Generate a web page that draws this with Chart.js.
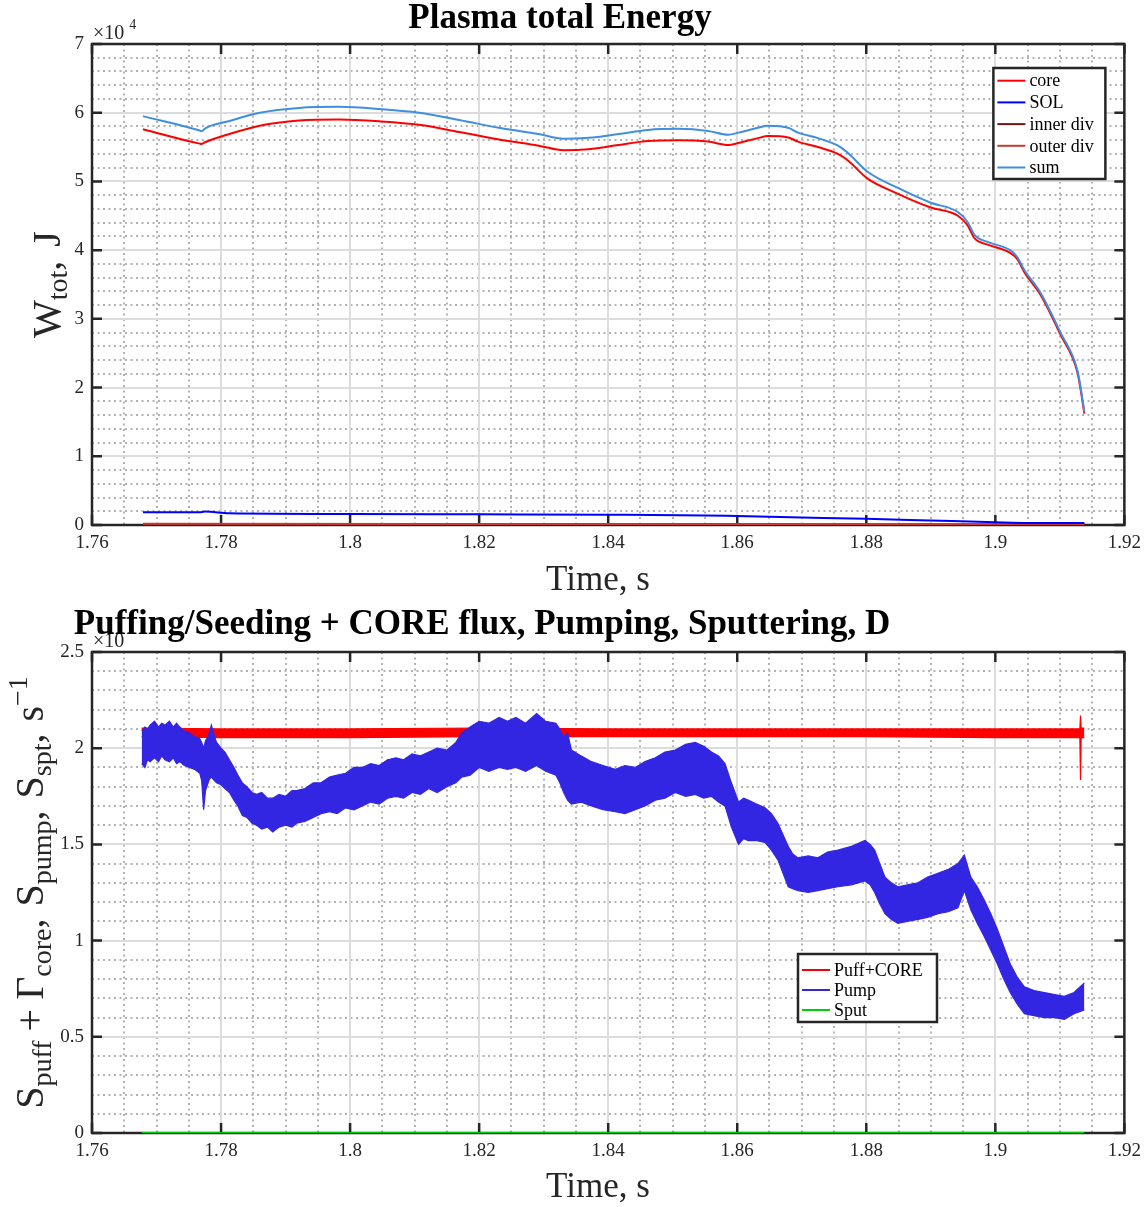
<!DOCTYPE html>
<html><head><meta charset="utf-8">
<script src="https://cdn.jsdelivr.net/npm/chart.js@4.4.0/dist/chart.umd.min.js"></script>
<style>
html,body{margin:0;padding:0;background:#fff;width:1148px;height:1207px;overflow:hidden}
canvas{position:absolute;left:0}
#c1{top:0}
#c2{top:600px}
</style></head><body>
<canvas id="c1" width="1148" height="600"></canvas>
<canvas id="c2" width="1148" height="607"></canvas>
<script>
// ---------- shared axis ticks ----------
const xTicks = [1.76,1.78,1.80,1.82,1.84,1.86,1.88,1.90,1.92];
const xTickLabels = ['1.76','1.78','1.8','1.82','1.84','1.86','1.88','1.9','1.92'];
const energyTicks = [0,1,2,3,4,5,6,7];
const energyTickLabels = ['0','1','2','3','4','5','6','7'];
const fluxTicks = [0,0.5,1,1.5,2,2.5];
const fluxTickLabels = ['0','0.5','1','1.5','2','2.5'];

// ---------- top chart: plasma energy (x 1e4 J) ----------
const energyNames = ['core','SOL','inner div','outer div','sum'];
const energyTime = [1.7679,1.7767,1.7770,1.7775,1.7813,1.7860,1.7921,1.7983,1.8045,1.8107,1.8169,1.8231,1.8292,1.8331,1.8370,1.8416,1.8462,1.8509,1.8555,1.8586,1.8602,1.8632,1.8648,1.8679,1.8694,1.8725,1.8756,1.8772,1.8802,1.8849,1.8900,1.8942,1.8957,1.8968,1.8988,1.9023,1.9034,1.9045,1.9070,1.9101,1.9127,1.9132,1.9138];
const sumEnergy = [5.95,5.74,5.73,5.77,5.88,6.00,6.07,6.085,6.055,6.00,5.895,5.78,5.69,5.62,5.635,5.69,5.75,5.765,5.735,5.68,5.71,5.78,5.81,5.78,5.71,5.63,5.52,5.41,5.14,4.905,4.69,4.555,4.41,4.22,4.12,4.00,3.90,3.71,3.38,2.80,2.26,2.01,1.645];
const coreEnergy = [5.76,5.55,5.545,5.57,5.69,5.81,5.885,5.90,5.875,5.825,5.72,5.61,5.52,5.455,5.47,5.53,5.59,5.60,5.58,5.53,5.56,5.63,5.66,5.64,5.58,5.50,5.40,5.30,5.04,4.82,4.62,4.50,4.36,4.17,4.08,3.96,3.87,3.68,3.35,2.77,2.23,1.98,1.62];
const solTime = [1.7679,1.7767,1.7775,1.7813,1.80,1.82,1.84,1.855,1.86,1.87,1.88,1.89,1.90,1.905,1.9138];
const solEnergy = [0.185,0.185,0.195,0.17,0.16,0.155,0.15,0.14,0.13,0.11,0.09,0.065,0.04,0.03,0.03];
const divTime = [1.7679,1.84,1.9138];
const innerDivEnergy = [0.012,0.010,0.008];
const outerDivEnergy = [0.018,0.015,0.010];

// ---------- bottom chart: particle fluxes (band envelopes) ----------
const fluxNames = ['Puff+CORE','Pump','Sput'];
const puffTime = [1.7677,1.78,1.80,1.82,1.84,1.86,1.88,1.90,1.9131,1.9132,1.9133,1.9138];
const puffHigh = [2.105,2.10,2.10,2.105,2.10,2.10,2.10,2.10,2.10,2.17,2.105,2.105];
const puffLow  = [2.06,2.055,2.055,2.06,2.06,2.06,2.06,2.055,2.055,1.835,2.055,2.055];
const pumpTime = [1.7677,1.7682,1.7686,1.7690,1.7697,1.7703,1.7708,1.7713,1.7720,1.7726,1.7731,1.7736,1.7743,1.7751,1.7759,1.7767,1.7770,1.7773,1.7776,1.7778,1.7782,1.7785,1.7790,1.7793,1.7800,1.7806,1.7813,1.7820,1.7826,1.7833,1.7840,1.7848,1.7855,1.7863,1.7872,1.7880,1.7890,1.7900,1.7910,1.7917,1.7930,1.7943,1.7955,1.7968,1.7980,1.7993,1.8006,1.8019,1.8032,1.8045,1.8058,1.8071,1.8083,1.8096,1.8109,1.8122,1.8135,1.8150,1.8164,1.8173,1.8186,1.8200,1.8215,1.8231,1.8244,1.8257,1.8272,1.8289,1.8303,1.8319,1.8325,1.8331,1.8337,1.8343,1.8358,1.8374,1.8392,1.8411,1.8426,1.8442,1.8457,1.8473,1.8488,1.8504,1.8520,1.8535,1.8548,1.8560,1.8571,1.8581,1.8591,1.8602,1.8610,1.8617,1.8630,1.8643,1.8653,1.8663,1.8671,1.8679,1.8686,1.8694,1.8710,1.8725,1.8740,1.8756,1.8777,1.8798,1.8806,1.8813,1.8821,1.8829,1.8839,1.8849,1.8864,1.8880,1.8895,1.8911,1.8927,1.8942,1.8952,1.8962,1.8972,1.8983,1.8993,1.9003,1.9013,1.9023,1.9034,1.9045,1.9060,1.9076,1.9092,1.9107,1.9122,1.9138];
const pumpHigh = [2.09,2.11,2.10,2.12,2.14,2.11,2.13,2.12,2.14,2.11,2.13,2.11,2.09,2.08,2.06,2.05,2.03,2.00,2.04,2.05,2.08,2.12,2.06,2.03,2.00,1.98,1.94,1.90,1.86,1.82,1.80,1.77,1.76,1.77,1.74,1.74,1.76,1.75,1.78,1.78,1.79,1.82,1.82,1.85,1.86,1.87,1.90,1.90,1.92,1.91,1.94,1.95,1.94,1.97,1.96,1.98,2.00,1.99,2.03,2.08,2.11,2.14,2.13,2.16,2.14,2.16,2.13,2.18,2.14,2.13,2.10,2.06,2.08,1.99,1.96,1.93,1.91,1.89,1.91,1.90,1.93,1.95,1.98,1.99,2.02,2.03,2.01,1.98,1.96,1.92,1.82,1.72,1.74,1.73,1.71,1.69,1.66,1.61,1.55,1.49,1.45,1.43,1.44,1.43,1.46,1.47,1.49,1.52,1.50,1.47,1.40,1.33,1.30,1.28,1.29,1.30,1.33,1.35,1.37,1.40,1.445,1.33,1.28,1.21,1.14,1.06,0.97,0.88,0.81,0.76,0.74,0.73,0.72,0.71,0.73,0.78];
const pumpLow  = [1.92,1.90,1.94,1.93,1.95,1.93,1.96,1.94,1.93,1.95,1.92,1.93,1.91,1.90,1.89,1.87,1.83,1.68,1.78,1.80,1.84,1.85,1.83,1.82,1.81,1.79,1.77,1.73,1.70,1.65,1.64,1.61,1.60,1.58,1.59,1.565,1.59,1.60,1.59,1.61,1.62,1.64,1.66,1.67,1.66,1.69,1.68,1.70,1.72,1.71,1.74,1.75,1.74,1.77,1.76,1.79,1.77,1.80,1.82,1.85,1.86,1.90,1.88,1.90,1.89,1.90,1.88,1.91,1.88,1.86,1.82,1.77,1.73,1.71,1.72,1.70,1.68,1.67,1.66,1.68,1.70,1.73,1.74,1.77,1.75,1.76,1.74,1.75,1.72,1.70,1.59,1.50,1.53,1.52,1.52,1.51,1.47,1.42,1.35,1.28,1.27,1.26,1.25,1.26,1.27,1.28,1.29,1.31,1.29,1.25,1.19,1.14,1.11,1.09,1.10,1.11,1.12,1.14,1.15,1.17,1.26,1.16,1.09,1.02,0.95,0.88,0.80,0.73,0.67,0.62,0.61,0.60,0.60,0.59,0.62,0.64];
const sputTime = [1.7677,1.9138];
const sputFlux = [0,0];

// ---------- helpers ----------
const SERIF = '"Liberation Serif","Times New Roman",Times,serif';
const INK = '#262626';
const pts = (xs, ys) => xs.map((x, i) => ({x: x, y: ys[i]}));
const isMajor = (v, step) => Math.abs(v / step - Math.round(v / step)) < 1e-6;

function makeScales(yTicks, yLabels, yMax, yMinorStep, yMajorStep, xHeight) {
  return {
    x: { type:'linear', position:'bottom', min:1.76, max:1.92,
      afterBuildTicks: s => { s.ticks = xTicks.map(v => ({value:v})); },
      afterFit: s => { s.height = xHeight; },
      ticks: { autoSkip:false, maxRotation:0, minRotation:0, padding:7, color:INK,
               font:{family:SERIF, size:19}, callback:(v, i) => xTickLabels[i] },
      grid: { color:'#dcdcdc', lineWidth:2, drawTicks:false, z:-1 },
      border: { display:false } },
    xm: { type:'linear', position:'bottom', min:1.76, max:1.92,
      afterFit: s => { s.height = 0; },
      ticks: { display:false, stepSize:0.005 },
      grid: { color: c => (c.tick && isMajor(c.tick.value - 1.76, 0.02)) ? 'rgba(0,0,0,0)' : '#b3b3b3',
              lineWidth:2, drawTicks:false, z:-2 },
      border: { display:false, dash:[2,3.5] } },
    y: { type:'linear', position:'left', min:0, max:yMax,
      afterBuildTicks: s => { s.ticks = yTicks.map(v => ({value:v})); },
      afterFit: s => { s.width = 92; },
      ticks: { padding:8, color:INK, font:{family:SERIF, size:19}, callback:(v, i) => yLabels[i] },
      grid: { color:'#dcdcdc', lineWidth:2, drawTicks:false, z:-1 },
      border: { display:false } },
    ym: { type:'linear', position:'left', min:0, max:yMax,
      afterFit: s => { s.width = 0; },
      ticks: { display:false, stepSize:yMinorStep },
      grid: { color: c => (c.tick && isMajor(c.tick.value, yMajorStep)) ? 'rgba(0,0,0,0)' : '#b3b3b3',
              lineWidth:2, drawTicks:false, z:-2 },
      border: { display:false, dash:[2,3.5] } }
  };
}

// axes box with inward ticks (drawn under the data, like MATLAB)
const boxPlugin = {
  id:'mbox',
  beforeDatasetsDraw(chart) {
    const ctx = chart.ctx, a = chart.chartArea, xs = chart.scales.x, ys = chart.scales.y;
    ctx.save();
    ctx.strokeStyle = INK; ctx.lineWidth = 2.5;
    ctx.strokeRect(a.left, a.top, a.right - a.left, a.bottom - a.top);
    ctx.beginPath();
    xs.ticks.forEach(t => { const p = xs.getPixelForValue(t.value);
      ctx.moveTo(p, a.bottom); ctx.lineTo(p, a.bottom - 10);
      ctx.moveTo(p, a.top); ctx.lineTo(p, a.top + 10); });
    ys.ticks.forEach(t => { const p = ys.getPixelForValue(t.value);
      ctx.moveTo(a.left, p); ctx.lineTo(a.left + 10, p);
      ctx.moveTo(a.right, p); ctx.lineTo(a.right - 10, p); });
    ctx.stroke();
    ctx.restore();
  }
};

function drawRich(ctx, parts, cx, cy, rot) {
  ctx.save();
  ctx.translate(cx, cy); ctx.rotate(rot);
  let w = 0;
  parts.forEach(p => { ctx.font = p.font; w += ctx.measureText(p.t).width + (p.gap || 0); });
  let x = -w / 2;
  ctx.textAlign = 'left'; ctx.textBaseline = 'alphabetic'; ctx.fillStyle = INK;
  parts.forEach(p => { ctx.font = p.font; ctx.fillText(p.t, x, p.dy || 0); x += ctx.measureText(p.t).width + (p.gap || 0); });
  ctx.restore();
}

function drawLegend(ctx, entries, bx, by, bw, bh, first, rowH) {
  ctx.save();
  ctx.fillStyle = '#fff'; ctx.fillRect(bx, by, bw, bh);
  ctx.strokeStyle = INK; ctx.lineWidth = 2.5; ctx.strokeRect(bx, by, bw, bh);
  ctx.font = '18px ' + SERIF; ctx.textBaseline = 'middle'; ctx.textAlign = 'left';
  entries.forEach((e, i) => {
    const ry = by + first + i * rowH;
    ctx.strokeStyle = e.color; ctx.lineWidth = 2;
    ctx.beginPath(); ctx.moveTo(bx + 4, ry); ctx.lineTo(bx + 32, ry); ctx.stroke();
    ctx.fillStyle = '#000'; ctx.fillText(e.label, bx + 36, ry + 1);
  });
  ctx.restore();
}

function legendEntries(chart) {
  return chart.data.datasets.filter(d => d.legendRank !== undefined)
    .sort((a, b) => a.legendRank - b.legendRank)
    .map(d => ({label: d.label, color: d.borderColor}));
}

function drawExponent(ctx, x, y, exp) {
  ctx.save();
  ctx.fillStyle = INK; ctx.textAlign = 'left'; ctx.textBaseline = 'alphabetic';
  ctx.font = '20px ' + SERIF; ctx.fillText('\u00d710', x, y);
  const w = ctx.measureText('\u00d710').width;
  if (exp) { ctx.font = '14px ' + SERIF; ctx.fillText(exp, x + w + 5, y - 10); }
  ctx.restore();
}

const M = '40px ' + SERIF, S = '28px ' + SERIF;

// ---------- top chart ----------
const lineDs = (label, xs, ys, color, rank, order) => ({
  label, data: pts(xs, ys), borderColor: color, backgroundColor: color, borderWidth: 2,
  pointRadius: 0, cubicInterpolationMode: 'monotone', fill: false, xAxisID: 'x', yAxisID: 'y', legendRank: rank, order });

new Chart(document.getElementById('c1'), {
  type: 'line',
  data: { datasets: [
    lineDs(energyNames[0], energyTime, coreEnergy, '#ff0000', 0, 1),
    lineDs(energyNames[1], solTime, solEnergy, '#0000ff', 1, 2),
    lineDs(energyNames[2], divTime, innerDivEnergy, '#7a1414', 2, 4),
    lineDs(energyNames[3], divTime, outerDivEnergy, '#c83a32', 3, 3),
    lineDs(energyNames[4], energyTime, sumEnergy, '#3f8ee0', 4, 0)
  ]},
  options: {
    responsive: false, animation: false, devicePixelRatio: 1,
    layout: { padding: { top: 44, right: 21, left: 0, bottom: 0 } },
    plugins: { legend: { display: false }, tooltip: { enabled: false } },
    scales: makeScales(energyTicks, energyTickLabels, 7, 0.2, 1, 75)
  },
  plugins: [boxPlugin, {
    id: 'topText',
    afterDraw(chart) {
      const ctx = chart.ctx, a = chart.chartArea;
      drawExponent(ctx, a.left + 1, 39, '4');
      ctx.save();
      ctx.fillStyle = '#000'; ctx.font = 'bold 35px ' + SERIF; ctx.textAlign = 'center'; ctx.textBaseline = 'alphabetic';
      ctx.fillText('Plasma total Energy', 560, 28);
      ctx.restore();
      drawRich(ctx, [{t:'Time, s', font:'35px ' + SERIF}], 598, 590, 0);
      drawRich(ctx, [
        {t:'W', font:M}, {t:'tot', font:S, dy:7}, {t:',', font:M, gap:14}, {t:'J', font:M}
      ], 60, (a.top + a.bottom) / 2, -Math.PI / 2);
      drawLegend(ctx, legendEntries(chart), a.right - 131, a.top + 24, 112, 111, 12.7, 21.7);
    }
  }]
});

// ---------- bottom chart ----------
const bandDs = (label, xs, ys, color, fill, rank, order) => ({
  label, data: pts(xs, ys), borderColor: color, backgroundColor: color, borderWidth: 1.2,
  pointRadius: 0, tension: 0, fill, xAxisID: 'x', yAxisID: 'y', legendRank: rank, order });

new Chart(document.getElementById('c2'), {
  type: 'line',
  data: { datasets: [
    bandDs(fluxNames[0], puffTime, puffHigh, '#ff0000', false, 0, 3),
    bandDs(fluxNames[0] + ' (low)', puffTime, puffLow, '#ff0000', '-1', undefined, 3),
    bandDs(fluxNames[1], pumpTime, pumpHigh, '#3326e2', false, 1, 1),
    bandDs(fluxNames[1] + ' (low)', pumpTime, pumpLow, '#3326e2', '-1', undefined, 1),
    { label: fluxNames[2], data: pts(sputTime, sputFlux), borderColor: '#00d000', backgroundColor: '#00d000',
      borderWidth: 2, pointRadius: 0, tension: 0, fill: false, xAxisID: 'x', yAxisID: 'y', legendRank: 2, order: 0 }
  ]},
  options: {
    responsive: false, animation: false, devicePixelRatio: 1,
    layout: { padding: { top: 52, right: 21, left: 0, bottom: 0 } },
    plugins: { legend: { display: false }, tooltip: { enabled: false } },
    scales: makeScales(fluxTicks, fluxTickLabels, 2.5, 0.1, 0.5, 74)
  },
  plugins: [boxPlugin, {
    id: 'botText',
    afterDraw(chart) {
      const ctx = chart.ctx, a = chart.chartArea;
      drawExponent(ctx, a.left + 1, 47, '');
      ctx.save();
      ctx.fillStyle = '#000'; ctx.font = 'bold 35px ' + SERIF; ctx.textAlign = 'center'; ctx.textBaseline = 'alphabetic';
      ctx.fillText('Puffing/Seeding + CORE flux, Pumping, Sputtering, D', 482, 34);
      ctx.restore();
      drawRich(ctx, [{t:'Time, s', font:'35px ' + SERIF}], 598, 597, 0);
      drawRich(ctx, [
        {t:'S', font:M}, {t:'puff', font:S, dy:8, gap:9},
        {t:'+', font:M, gap:9},
        {t:'\u0393', font:M}, {t:'core', font:S, dy:8}, {t:',', font:M, gap:12},
        {t:'S', font:M}, {t:'pump', font:S, dy:8}, {t:',', font:M, gap:12},
        {t:'S', font:M}, {t:'spt', font:S, dy:8}, {t:',', font:M, gap:12},
        {t:'s', font:M}, {t:'\u22121', font:S, dy:-16}
      ], 43, (a.top + a.bottom) / 2, -Math.PI / 2);
      drawLegend(ctx, legendEntries(chart), 798, 354, 139, 68, 16, 20);
    }
  }]
});
</script>
</body></html>
